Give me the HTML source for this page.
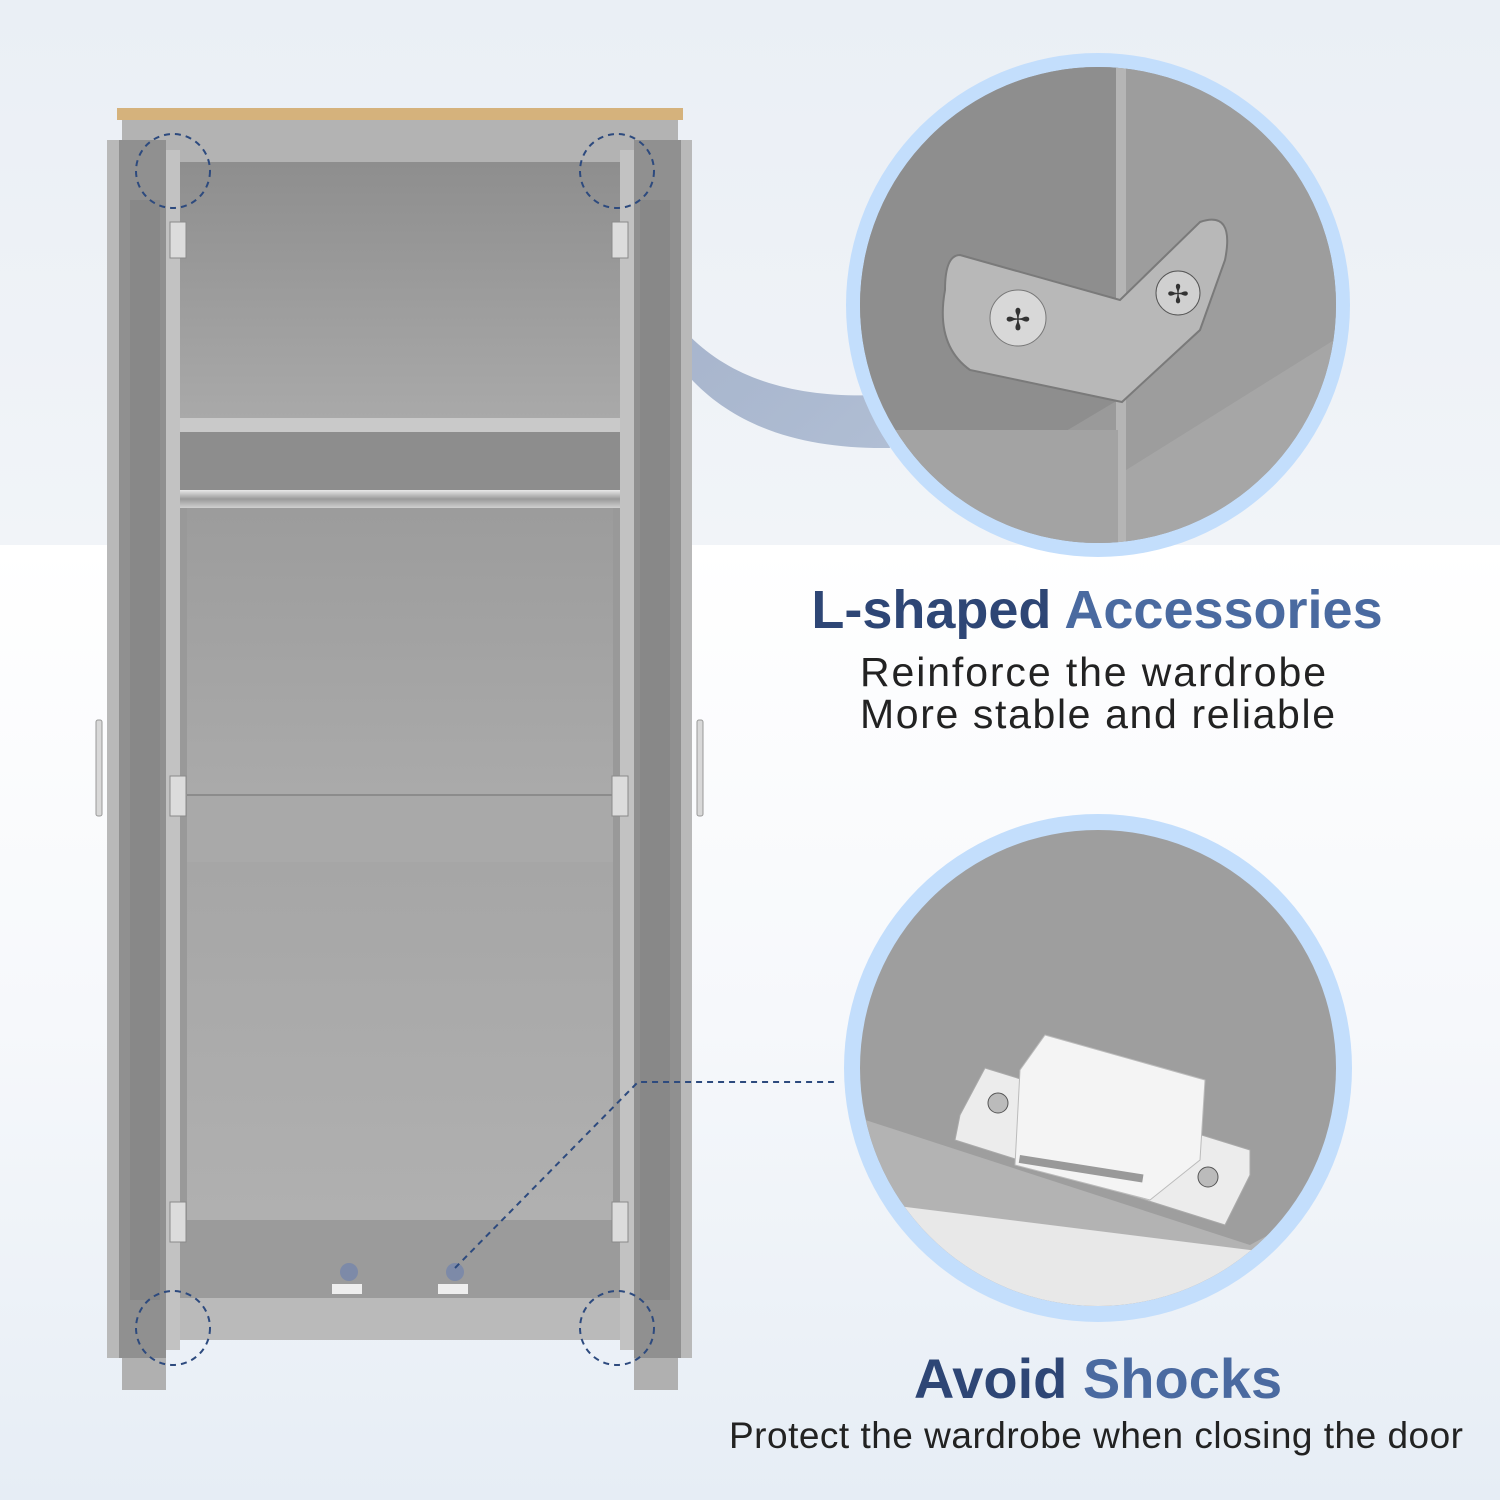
<!DOCTYPE html>
<html><head><meta charset="utf-8"><style>
html,body{margin:0;padding:0;width:1500px;height:1500px;overflow:hidden;background:#fff}
svg{display:block}
text{font-family:"Liberation Sans",sans-serif}
</style></head><body>
<svg width="1500" height="1500" viewBox="0 0 1500 1500" xmlns="http://www.w3.org/2000/svg">
<defs>
<linearGradient id="bgTop" x1="0" y1="0" x2="0" y2="1"><stop offset="0" stop-color="#eaeff5"/><stop offset="1" stop-color="#f1f4f8"/></linearGradient>
<linearGradient id="bgBot" x1="0" y1="0" x2="0" y2="1"><stop offset="0" stop-color="#ffffff"/><stop offset="0.5" stop-color="#f6f8fb"/><stop offset="1" stop-color="#e6edf5"/></linearGradient>
<linearGradient id="back1" x1="0" y1="0" x2="0" y2="1"><stop offset="0" stop-color="#8e8e8e"/><stop offset="1" stop-color="#a9a9a9"/></linearGradient>
<linearGradient id="back2" x1="0" y1="0" x2="0" y2="1"><stop offset="0" stop-color="#9c9c9c"/><stop offset="1" stop-color="#aaaaaa"/></linearGradient>
<linearGradient id="back3" x1="0" y1="0" x2="0" y2="1"><stop offset="0" stop-color="#a6a6a6"/><stop offset="1" stop-color="#b0b0b0"/></linearGradient>
<linearGradient id="rod" x1="0" y1="0" x2="0" y2="1"><stop offset="0" stop-color="#e8e8e8"/><stop offset="0.5" stop-color="#9a9a9a"/><stop offset="1" stop-color="#d0d0d0"/></linearGradient>
<linearGradient id="conn" x1="0" y1="0" x2="1" y2="1"><stop offset="0" stop-color="#8798b8" stop-opacity="0.7"/><stop offset="1" stop-color="#a9b8d0" stop-opacity="0.9"/></linearGradient>
<clipPath id="c1"><circle cx="1098" cy="305" r="238"/></clipPath>
<clipPath id="c2"><circle cx="1098" cy="1068" r="238"/></clipPath>
</defs>
<rect x="0" y="0" width="1500" height="545" fill="url(#bgTop)"/>
<rect x="0" y="545" width="1500" height="955" fill="url(#bgBot)"/>

<path d="M630,215 C660,360 760,400 880,395 L890,448 C760,450 660,400 630,250 Z" fill="url(#conn)"/>

<rect x="117" y="108" width="566" height="12" fill="#d5b27c"/>
<rect x="122" y="120" width="556" height="1220" fill="#b3b3b3"/>
<rect x="180" y="162" width="440" height="256" fill="url(#back1)"/>
<rect x="180" y="418" width="440" height="14" fill="#c9c9c9"/>
<rect x="180" y="432" width="440" height="58" fill="#8d8d8d"/>
<rect x="180" y="490" width="440" height="18" fill="url(#rod)"/>
<rect x="180" y="508" width="440" height="287" fill="url(#back2)"/>
<rect x="186" y="795" width="428" height="67" fill="#a9a9a9"/>
<line x1="186" y1="795" x2="614" y2="795" stroke="#8c8c8c" stroke-width="2"/>
<rect x="186" y="862" width="428" height="358" fill="url(#back3)"/>
<rect x="180" y="508" width="7" height="712" fill="#999"/>
<rect x="613" y="508" width="7" height="712" fill="#999"/>
<rect x="180" y="1220" width="440" height="78" fill="#9b9b9b"/>
<rect x="122" y="1298" width="556" height="42" fill="#bababa"/>
<rect x="122" y="1340" width="44" height="50" fill="#b0b0b0"/>
<rect x="634" y="1340" width="44" height="50" fill="#b0b0b0"/>
<rect x="107" y="140" width="15" height="1218" fill="#b9b9b9"/>
<rect x="119" y="140" width="47" height="1218" fill="#909090"/>
<rect x="130" y="200" width="30" height="1100" fill="#888"/>
<rect x="166" y="150" width="14" height="1200" fill="#c2c2c2"/>
<rect x="678" y="140" width="14" height="1218" fill="#b9b9b9"/>
<rect x="634" y="140" width="47" height="1218" fill="#909090"/>
<rect x="640" y="200" width="30" height="1100" fill="#888"/>
<rect x="620" y="150" width="14" height="1200" fill="#c2c2c2"/>
<rect x="96" y="720" width="6" height="96" rx="2" fill="#d8d8d8" stroke="#999"/>
<rect x="697" y="720" width="6" height="96" rx="2" fill="#d8d8d8" stroke="#999"/>
<g fill="#dcdcdc" stroke="#8a8a8a" stroke-width="1">
<rect x="170" y="222" width="16" height="36"/><rect x="170" y="776" width="16" height="40"/><rect x="170" y="1202" width="16" height="40"/>
<rect x="612" y="222" width="16" height="36"/><rect x="612" y="776" width="16" height="40"/><rect x="612" y="1202" width="16" height="40"/>
</g>
<circle cx="349" cy="1272" r="9" fill="#7d8aa8"/><rect x="332" y="1284" width="30" height="10" fill="#eee"/>
<circle cx="455" cy="1272" r="9" fill="#7d8aa8"/><rect x="438" y="1284" width="30" height="10" fill="#eee"/>
<g fill="none" stroke="#2d4a7e" stroke-width="2" stroke-dasharray="6,5">
<circle cx="173" cy="171" r="37"/><circle cx="617" cy="171" r="37"/>
<circle cx="173" cy="1328" r="37"/><circle cx="617" cy="1328" r="37"/>
<polyline points="455,1268 638,1082 838,1082"/>
</g>

<circle cx="1098" cy="305" r="252" fill="#c3defc"/>
<g clip-path="url(#c1)">
<rect x="850" y="50" width="500" height="520" fill="#9a9a9a"/>
<polygon points="850,50 1118,50 1118,400 850,560" fill="#8e8e8e"/>
<rect x="1116" y="50" width="10" height="520" fill="#b5b5b5"/>
<polygon points="1126,50 1350,50 1350,330 1126,470" fill="#9d9d9d"/>
<polygon points="1126,470 1350,330 1350,570 1126,570" fill="#a6a6a6"/>
<polygon points="850,430 1118,430 1118,570 850,570" fill="#a3a3a3"/>
<path d="M960,255 L1120,300 L1200,222 Q1235,210 1225,260 L1200,330 L1122,402 L970,370 Q935,345 945,290 Q945,255 960,255 Z" fill="#b8b8b8" stroke="#7a7a7a" stroke-width="2"/>
<circle cx="1018" cy="318" r="28" fill="#d8d8d8" stroke="#777"/>
<circle cx="1178" cy="293" r="22" fill="#d0d0d0" stroke="#555"/>
<text x="1018" y="330" font-size="30" text-anchor="middle" fill="#333">✢</text>
<text x="1178" y="303" font-size="26" text-anchor="middle" fill="#333">✢</text>
</g>

<circle cx="1098" cy="1068" r="254" fill="#c3defc"/>
<g clip-path="url(#c2)">
<rect x="850" y="815" width="500" height="510" fill="#9e9e9e"/>
<polygon points="850,1115 1250,1245 1350,1190 1350,1330 850,1330" fill="#b3b3b3"/>
<polygon points="850,1200 1250,1250 1350,1250 1350,1330 850,1330" fill="#e8e8e8"/>
<polygon points="985,1068 1250,1150 1250,1175 1225,1225 955,1140 960,1115" fill="#ececec" stroke="#aaa"/>
<polygon points="1045,1035 1205,1080 1200,1160 1150,1200 1015,1165 1020,1070" fill="#f4f4f4" stroke="#bbb"/>
<rect x="1020" y="1155" width="125" height="8" fill="#999" transform="rotate(9 1020 1155)"/>
<circle cx="998" cy="1103" r="10" fill="#bbb" stroke="#555"/>
<circle cx="1208" cy="1177" r="10" fill="#bbb" stroke="#555"/>
</g>

<text x="1097" y="628" font-size="54" font-weight="bold" text-anchor="middle"><tspan fill="#2e4675">L-shaped </tspan><tspan fill="#4a6aa0">Accessories</tspan></text>
<text x="860" y="686" font-size="41" fill="#222" textLength="466">Reinforce the wardrobe</text>
<text x="860" y="728" font-size="41" fill="#222" textLength="475">More stable and reliable</text>
<text x="1098" y="1398" font-size="56" font-weight="bold" text-anchor="middle"><tspan fill="#2e4675">Avoid </tspan><tspan fill="#4a6aa0">Shocks</tspan></text>
<text x="1096" y="1448" font-size="37" fill="#222" text-anchor="middle" textLength="734">Protect the wardrobe when closing the door</text>
</svg>
</body></html>
